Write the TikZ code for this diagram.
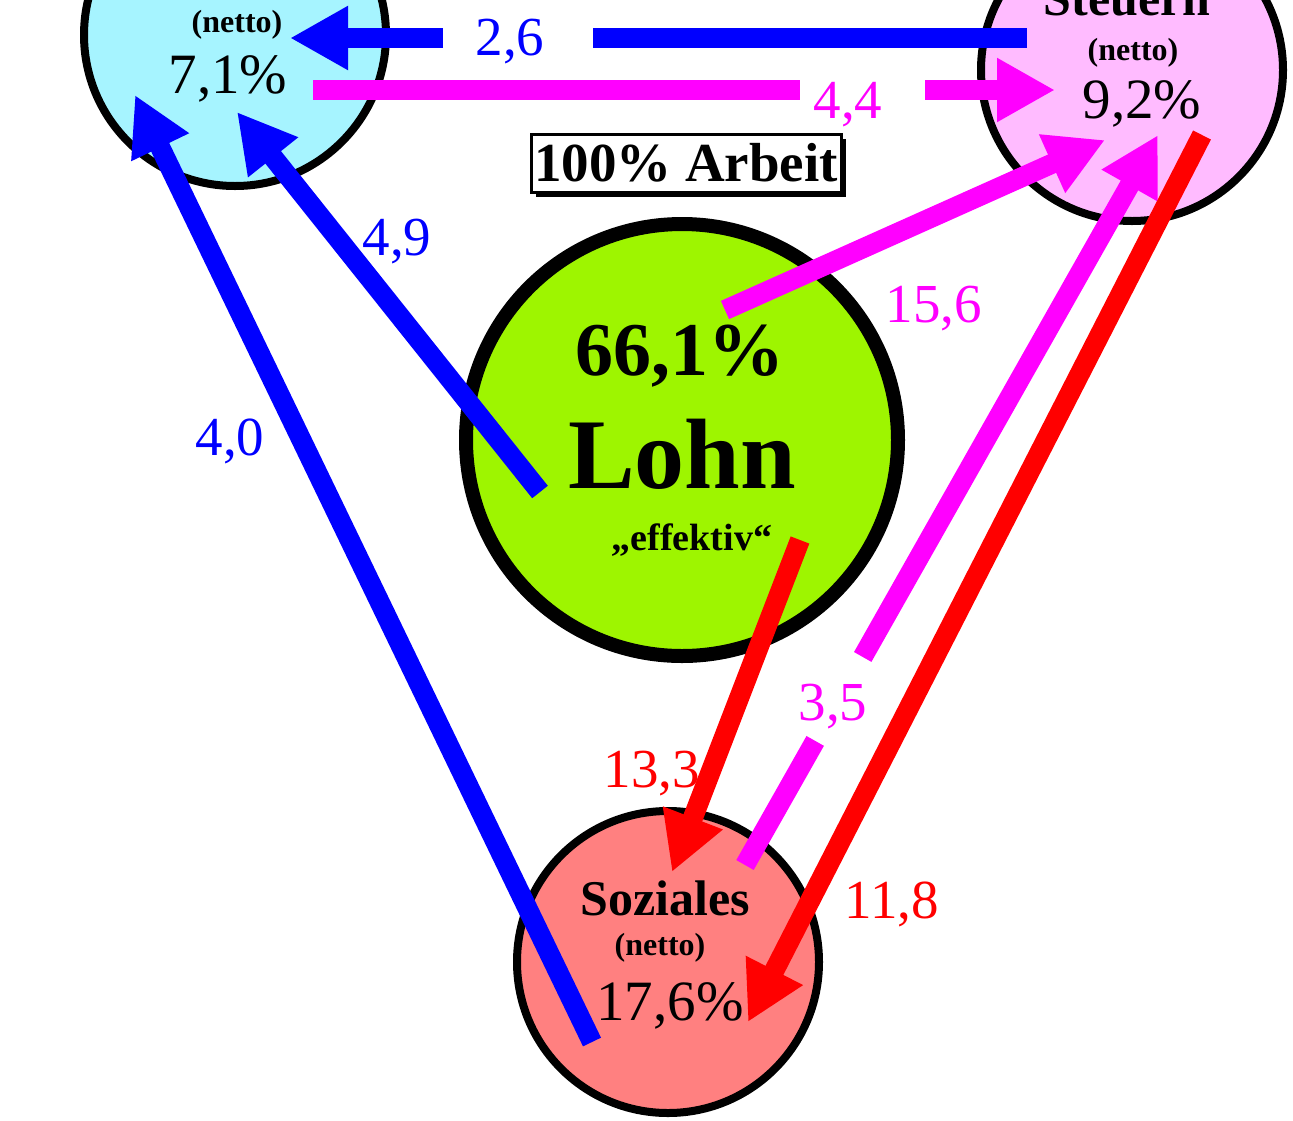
\documentclass[tikz,border=0pt]{standalone}
\usepackage{fontspec}
\setmainfont{Liberation Serif}
\usetikzlibrary{arrows.meta, calc, shadows}
\definecolor{himmel}{RGB}{166,244,255}
\definecolor{rosa}{RGB}{255,187,255}
\definecolor{gruen}{RGB}{158,245,0}
\definecolor{lachs}{RGB}{255,128,128}
\definecolor{lila}{RGB}{255,0,255}
\tikzset{kreis/.style={circle, draw, line width=8pt, inner sep=0pt, minimum size=302pt},
         strich/.style={line width=20pt},
         pfeil/.style={line width=20pt, -{Triangle[length=58pt,width=60pt]}},
         zahl/.style={anchor=base, inner sep=0pt, font=\fontsize{55}{55}\selectfont},
         wert/.style={anchor=base, inner sep=0pt, font=\fontsize{57}{57}\selectfont},
         netto/.style={anchor=base, inner sep=0pt, font=\fontsize{32}{32}\selectfont\bfseries},
        }

\begin{document}
\begin{tikzpicture}[x=1pt, y=-1pt]
        \useasboundingbox (0,0) rectangle (1293,1120);

        % Kreise
        \node[kreis, fill=himmel](staat)at(235,35){};
        \node[kreis, fill=rosa](steuern)at(1132,70){};
        \node[kreis, fill=gruen, line width=14pt, minimum size=432pt](lohn)at(682,440){};
        \node[kreis, fill=lachs](sozial)at(668,962){};

        \node[netto](n1)at(237,32){(netto)};
        \node[wert](w1)at(228,93){7,1\%};
        \node[anchor=base, inner sep=0pt, font=\fontsize{50}{50}\selectfont\bfseries](t2)at(1127,15){Steuern};
        \node[netto](n2)at(1133,60){(netto)};
        \node[wert](w2)at(1142,118){9,2\%};
        \node[anchor=base, inner sep=0pt, font=\fontsize{76}{76}\selectfont\bfseries](w3)at(680,375){66,1\%};
        \node[anchor=base, inner sep=0pt, font=\fontsize{100}{100}\selectfont\bfseries](t3)at(682,488){Lohn};
        \node[anchor=base, inner sep=0pt, font=\fontsize{38}{38}\selectfont\bfseries](e3)at(692,550){„effektiv“};
        \node[anchor=base, inner sep=0pt, font=\fontsize{50}{50}\selectfont\bfseries](t4)at(665,915){Soziales};
        \node[netto](n4)at(660,955){(netto)};
        \node[wert](w4)at(670,1020){17,6\%};

        \node[draw, fill=white, line width=3pt, minimum width=310pt, minimum height=58pt, inner sep=0pt,
              drop shadow={shadow xshift=5pt, shadow yshift=-5pt, fill=black, opacity=1},
              font=\fontsize{55}{55}\selectfont\bfseries](arbeit)at(686,163){100\% Arbeit};

        % Pfeile
        \coordinate(s26)at(1027,38); \coordinate(g26a)at(593,38); \coordinate(g26b)at(443,38); \coordinate(z26)at(290,38);
        \coordinate(s44)at(313,90); \coordinate(g44a)at(800,90); \coordinate(g44b)at(925,90); \coordinate(z44)at(1055,90);
        \coordinate(s49)at(540,492); \coordinate(z49)at(237,112);
        \coordinate(s40)at(592,1042); \coordinate(z40)at(135,95);
        \coordinate(s156)at(725,310); \coordinate(z156)at(1105,140);
        \coordinate(s35)at(745,865); \coordinate(z35)at(1158,135);
        \coordinate(s133)at(800,540); \coordinate(z133)at(672,872);
        \coordinate(s118)at(1202,135); \coordinate(z118)at(748,1022);

        \draw[strich, blue](s26)--(g26a);
        \draw[pfeil, blue](g26b)--(z26);
        \draw[strich, lila](s44)--(g44a);
        \draw[pfeil, lila](g44b)--(z44);
        \draw[pfeil, blue](s49)--(z49);
        \draw[pfeil, blue](s40)--(z40);
        \draw[pfeil, lila](s156)--(z156);
        \draw[strich, lila](s35)--($(s35)!0.17!(z35)$);
        \draw[pfeil, lila]($(s35)!0.285!(z35)$)--(z35);
        \draw[pfeil, red](s133)--(z133);
        \draw[pfeil, red](s118)--(z118);

        \node[zahl, blue](l26)at(510,55){2,6};
        \node[zahl, lila](l44)at(848,118){4,4};
        \node[zahl, blue](l49)at(397,255){4,9};
        \node[zahl, lila](l156)at(934,322){15,6};
        \node[zahl, blue](l40)at(230,455){4,0};
        \node[zahl, lila](l35)at(833,720){3,5};
        \node[zahl, red](l133)at(652,787){13,3};
        \node[zahl, red](l118)at(892,918){11,8};
    \end{tikzpicture}
\end{document}
